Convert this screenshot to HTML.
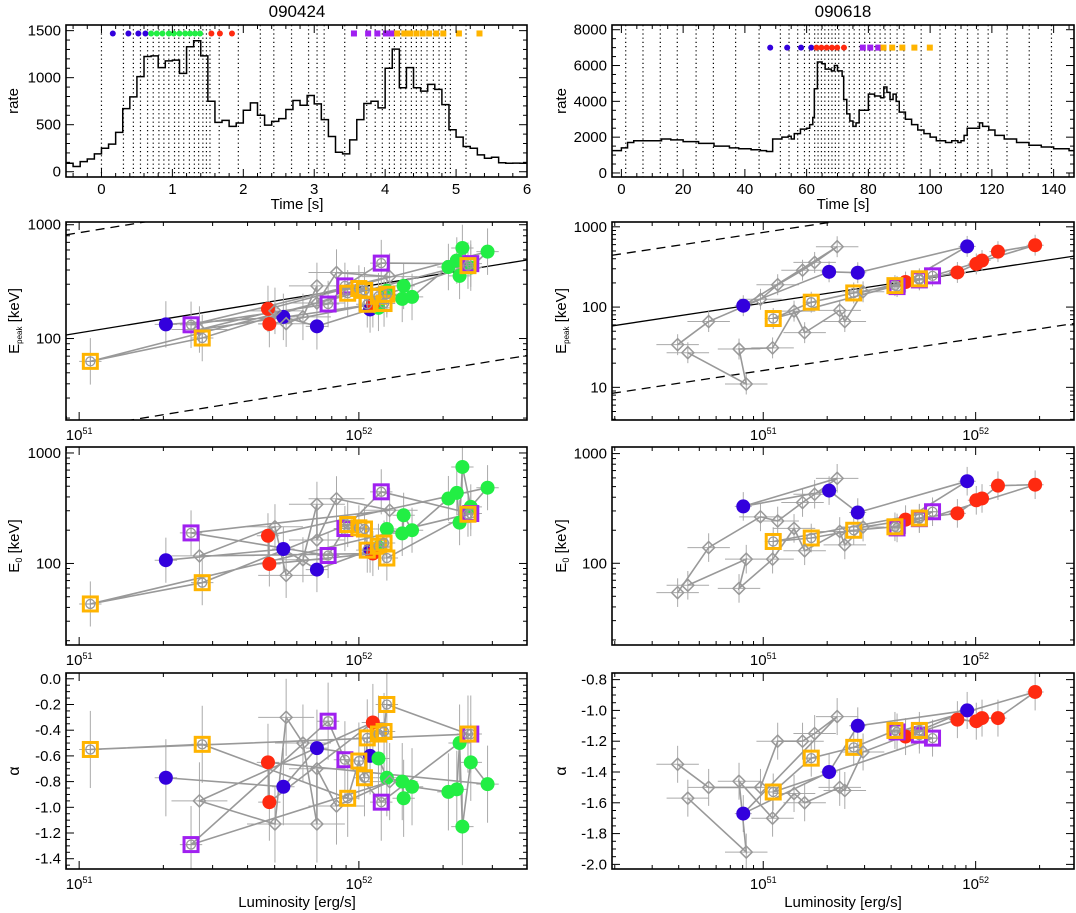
<!DOCTYPE html>
<html><head><meta charset="utf-8"><style>
body{margin:0;background:#fff}
svg{display:block;font-family:"Liberation Sans",sans-serif}
</style></head><body>
<svg id="fig" width="1076" height="913" viewBox="0 0 1076 913">
<rect width="1076" height="913" fill="#fff"/>
<text x="297" y="17" font-size="17" text-anchor="middle">090424</text>
<text x="843" y="17" font-size="17" text-anchor="middle">090618</text>
<text x="297" y="209" font-size="15" text-anchor="middle">Time [s]</text>
<text x="843" y="209" font-size="15" text-anchor="middle">Time [s]</text>
<text x="297" y="907" font-size="15" text-anchor="middle">Luminosity [erg/s]</text>
<text x="843" y="907" font-size="15" text-anchor="middle">Luminosity [erg/s]</text>
<text transform="translate(18,101) rotate(-90)" font-size="15" text-anchor="middle">rate</text>
<text transform="translate(566,101) rotate(-90)" font-size="15" text-anchor="middle">rate</text>
<text transform="translate(19,321) rotate(-90)" font-size="15" text-anchor="middle">E<tspan font-size="8" dy="3">peak</tspan><tspan dy="-3"> [keV]</tspan></text>
<text transform="translate(566,321) rotate(-90)" font-size="15" text-anchor="middle">E<tspan font-size="8" dy="3">peak</tspan><tspan dy="-3"> [keV]</tspan></text>
<text transform="translate(19,546) rotate(-90)" font-size="15" text-anchor="middle">E<tspan font-size="9" dy="3">0</tspan><tspan dy="-3"> [keV]</tspan></text>
<text transform="translate(566,546) rotate(-90)" font-size="15" text-anchor="middle">E<tspan font-size="9" dy="3">0</tspan><tspan dy="-3"> [keV]</tspan></text>
<text transform="translate(19,771) rotate(-90)" font-size="16" text-anchor="middle">α</text>
<text transform="translate(566,771) rotate(-90)" font-size="16" text-anchor="middle">α</text>
</svg>
<script>
// ---------- light-curve data ----------
const lcLeftBinStart = -0.5;
const lcLeftBinWidth = 0.1;
const lcLeftRates = [90,55,107,136,190,250,293,418,671,796,1011,1225,1232,1107,1179,1186,1046,1329,1393,1232,750,525,546,482,518,654,732,600,496,536,564,661,757,707,811,721,554,375,207,190,339,554,725,750,679,1100,1304,893,1107,893,857,929,875,714,446,368,268,250,179,143,154,96,90,92,90];
const lcLeftDivTimes = [0,0.31,0.45,0.55,0.65,0.73,0.81,0.88,0.95,1.03,1.09,1.16,1.24,1.31,1.37,1.43,1.48,1.53,1.66,1.93,2.24,2.43,2.68,2.92,3.04,3.14,3.43,3.74,3.86,3.96,4.06,4.13,4.22,4.29,4.37,4.44,4.51,4.59,4.68,4.76,4.85,4.92,5.14];
const lcLeftMarkTimes = [0.16,0.38,0.52,0.62,0.70,0.78,0.86,0.95,1.02,1.10,1.18,1.25,1.32,1.39,1.55,1.67,1.84,3.56,3.76,3.89,4.01,4.09,4.17,4.27,4.35,4.44,4.53,4.62,4.72,4.82,5.04,5.33];
const lcLeftMarkTypes = ['b','b','b','b','g','g','g','g','g','g','g','g','g','g','r','r','r','p','p','p','p','p','o','o','o','o','o','o','o','o','o','o'];
const lcLeftMarkLevel = 1470;

const lcRightTimes = [-3,0,2,4,6,10,13,16,20,25,30,35,38,42,45,47,49,52,54,55,56,58,60,61,62,62.5,63.5,65,66,68,69,70,71.5,72,73,74,75,76,77,79,80,82,84,85,86,87,88,89,90,92,94,96,98,100,102,105,107,109,110,111,112,114,116,117,119,121,124,128,132,136,140,145,150];
const lcRightRates = [1250,1400,1700,1800,1800,1800,1900,1850,1750,1650,1500,1400,1350,1300,1250,1200,1900,2000,2050,1900,2200,2450,2500,2700,3100,4700,6200,6100,5800,5700,6000,5700,5400,4100,3300,2900,2600,2800,3500,3500,4400,4300,4200,4800,4500,4100,4400,4000,3400,3000,2700,2400,2200,2000,1800,1700,1800,1700,1800,2100,2500,2500,2800,2600,2400,2100,1900,1700,1550,1450,1350,1250,1150];
const lcRightDivTimes = [1.4,7,12.6,18.1,24.2,29.8,37,44.6,51.5,54.3,57.1,59.3,60.9,62.6,63.7,64.8,65.9,67.1,68.2,69.3,70.4,72.1,73.8,75.4,77.1,78.8,80.4,82.1,83.8,85.4,87.1,89.3,91.5,97.1,103.2,108.2,112.1,115.5,118.8,124.9,132.1,139.3];
const lcRightMarkTimes = [48.2,53.7,58.2,61.5,63.2,64.8,66.5,68.2,69.9,72.1,78.2,80.6,83.2,84.9,87.7,91,94.9,99.9];
const lcRightMarkTypes = ['b','b','b','b','r','r','r','r','r','r','p','p','p','o','o','o','o','o'];
const lcRightMarkLevel = 7000;

// ---------- GRB 090424 spectral data (log10 luminosity) ----------
const gA_type = ['b','b','b','b','g','g','g','g','g','g','g','g','g','g','g','r','r','r','d','d','d','d','d','d','d','d','p','p','p','p','p','o','o','o','o','o','o','o','o','o','o'];
const gA_logL = [51.31,51.73,51.85,52.04, 52.07,52.10,52.155,52.16,52.19,52.32,52.35,52.36,52.37,52.40,52.46, 51.675,51.68,52.05, 51.43,51.70,51.74,51.80,51.85,51.85,51.92,52.11, 51.40,51.89,51.95,52.08,52.40, 51.04,51.44,51.96,52.00,52.02,52.03,52.07,52.09,52.10,52.39];
const gA_epeak = [133,155,128,180, 186,263,223,290,232,425,485,355,625,420,580, 182,134,200, 120,175,135,155,290,205,380,350, 132,201,290,460,455, 63,101,250,275,265,200,235,203,245,437];
const gA_e0 = [107,135,88,132, 140,205,187,273,200,387,435,234,747,325,485, 178,99,123, 117,215,78,108,343,163,385,303, 189,118,207,445,283, 43,67,225,210,205,132,143,153,112,279];
const gA_alpha = [-0.77,-0.84,-0.54,-0.60, -0.62,-0.77,-0.80,-0.93,-0.84,-0.88,-0.86,-0.50,-1.15,-0.65,-0.82, -0.65,-0.96,-0.34, -0.95,-1.13,-0.30,-0.50,-1.13,-0.70,-0.99,-0.80, -1.29,-0.33,-0.63,-0.96,-0.43, -0.55,-0.51,-0.93,-0.64,-0.77,-0.46,-0.43,-0.41,-0.20,-0.43];

// ---------- GRB 090618 spectral data ----------
const gB_type = ['d','d','d','d','d','d','d','b','b','b','b','r','r','r','r','r','r','p','p','p','o','o','o','o','o','d','d','d','d','d','d','d','d','d'];
const gB_logL = [50.597,50.743,50.987,51.068,51.185,51.242,51.348, 50.906,51.31,51.445,51.96, 51.67,51.914,52.003,52.03,52.105,52.28, 51.63,51.735,51.797, 51.047,51.226,51.426,51.62,51.735, 51.47,51.384,51.36,51.195,51.145,51.044,50.886,50.92,50.645];
const gB_epeak = [34,66,125,190,288,360,565, 104,275,268,570, 205,270,345,380,490,590, 180,218,245, 72,115,150,185,225, 155,66,91,48,89,31,30,11,27];
const gB_e0 = [54,139,265,243,358,426,595, 330,460,290,560, 250,285,375,390,510,520, 210,255,295, 158,170,200,215,258, 214,147,195,130,208,109,59,109,63];
const gB_alpha = [-1.35,-1.50,-1.50,-1.20,-1.20,-1.15,-1.04, -1.67,-1.40,-1.10,-1.00, -1.17,-1.06,-1.07,-1.05,-1.05,-0.88, -1.14,-1.16,-1.18, -1.53,-1.31,-1.24,-1.13,-1.13, -1.27,-1.52,-1.50,-1.60,-1.54,-1.70,-1.46,-1.92,-1.57];

// Epeak-L relation lines: log Ep = intercept + slope*(logL-51)
const relSlope = 0.4;
const relIntercepts = [2.05, 2.93, 1.21];

const NS='http://www.w3.org/2000/svg';
const svg=document.getElementById('fig');
const COL={b:'#3300dd',g:'#22ee44',r:'#ff2a10',p:'#a020f0',o:'#ffb400'};
const NAMES={b:'blue',g:'green',r:'red',p:'purple',o:'orange',d:'gray'};
function el(tag,attrs,parent){const e=document.createElementNS(NS,tag);for(const k in attrs)e.setAttribute(k,attrs[k]);(parent||svg).appendChild(e);return e;}
let clipId=0;
function makePanel(name,x0,x1,y0,y1,xr,yr,xlog,ylog){
  const P={x0,x1,y0,y1,xr,yr};
  P.sx=v=>x0+(v-xr[0])/(xr[1]-xr[0])*(x1-x0);
  P.sy=v=>y1-((ylog?Math.log10(v):v)-yr[0])/(yr[1]-yr[0])*(y1-y0);
  P.g=el('g',{});
  
  
  const id='c'+(clipId++);
  const cp=el('clipPath',{id:id},P.g);
  el('rect',{x:x0,y:y0,width:x1-x0,height:y1-y0},cp);
  P.c=el('g',{'clip-path':'url(#'+id+')'},P.g);
  return P;
}
function frame(P){
  const r=el('rect',{x:P.x0,y:P.y0,width:P.x1-P.x0,height:P.y1-P.y0,fill:'none',stroke:'#000','stroke-width':1.6},P.g);
  
  
}
function tickLine(P,pos,axis,len){
  if(axis==='x'){el('line',{x1:pos,x2:pos,y1:P.y1,y2:P.y1-len,stroke:'#000','stroke-width':1},P.g);el('line',{x1:pos,x2:pos,y1:P.y0,y2:P.y0+len,stroke:'#000','stroke-width':1},P.g);}
  else{el('line',{y1:pos,y2:pos,x1:P.x0,x2:P.x0+len,stroke:'#000','stroke-width':1},P.g);el('line',{y1:pos,y2:pos,x1:P.x1,x2:P.x1-len,stroke:'#000','stroke-width':1},P.g);}
}
function linTicks(P,axis,major,minor,fmt){
  const r=axis==='x'?P.xr:P.yr;
  const s=axis==='x'?P.sx:(v=>P.y1-(v-P.yr[0])/(P.yr[1]-P.yr[0])*(P.y1-P.y0));
  for(let v=Math.ceil(r[0]/minor-1e-6)*minor;v<=r[1]+1e-9;v+=minor){
    const isMaj=Math.abs(v/major-Math.round(v/major))<1e-6;
    const p=s(v);tickLine(P,p,axis,isMaj?8:4);
    if(isMaj){
      const t=axis==='x'?el('text',{x:p,y:P.y1+17,'font-size':15,'text-anchor':'middle'},P.g):el('text',{x:P.x0-5,y:p+5,'font-size':15,'text-anchor':'end'},P.g);
      t.textContent=fmt(v);
      
      
    }
  }
}
function logTicks(P,axis){
  const r=axis==='x'?P.xr:P.yr;
  const s=axis==='x'?P.sx:(v=>P.y1-(v-P.yr[0])/(P.yr[1]-P.yr[0])*(P.y1-P.y0));
  for(let d=Math.floor(r[0]);d<=Math.ceil(r[1]);d++){
    for(let m=1;m<10;m++){
      const lv=d+Math.log10(m);
      if(lv<r[0]-1e-6||lv>r[1]+1e-6)continue;
      const p=s(lv);tickLine(P,p,axis,m===1?8:4);
      if(m===1){
        if(axis==='x'){
          const t=el('text',{x:p,y:P.y1+20,'font-size':15,'text-anchor':'middle'},P.g);
          
          
          t.appendChild(document.createTextNode('10'));
          const sp=el('tspan',{'font-size':9,dy:-6},t);sp.textContent=String(d);
        }else{
          const t=el('text',{x:P.x0-5,y:p+5,'font-size':15,'text-anchor':'end'},P.g);
          t.textContent=String(Math.round(Math.pow(10,d)));
          
          
        }
      }
    }
  }
}
function lcMarker(P,t,type,level){
  const x=P.sx(t),y=P.sy(level);let m;
  if(type==='p'||type==='o'){m=el('rect',{x:x-3,y:y-3,width:6,height:6,fill:COL[type]},P.c);}
  else{m=el('circle',{cx:x,cy:y,r:3,fill:COL[type]},P.c);}
  
  
}
function lightCurve(P,starts,rates,endT,divs,mt,mty,lvl){
  divs.forEach(t=>{const l=el('line',{x1:P.sx(t),x2:P.sx(t),y1:P.y0,y2:P.y1,stroke:'#000','stroke-width':1.2,'stroke-dasharray':'1.2,3'},P.c);
    
    });
  let d='';
  for(let i=0;i<rates.length;i++){const a=P.sx(starts[i]),b=P.sx(i+1<starts.length?starts[i+1]:endT),y=P.sy(rates[i]);d+=(i?'L':'M')+a+' '+y+'L'+b+' '+y;}
  const p=el('path',{d:d,fill:'none',stroke:'#000','stroke-width':1.5},P.c);
  
  
  mt.forEach((t,i)=>lcMarker(P,t,mty[i],lvl));
}
function scatter(P,types,logL,vals,ylog,yerr){
  const eg=el('g',{stroke:'#aaa','stroke-width':1},P.c);
  logL.forEach((lx,i)=>{
    const v=vals[i],x=P.sx(lx);
    const ylo=ylog?v/yerr:v-yerr,yhi=ylog?v*yerr:v+yerr;
    const e=el('line',{x1:x,x2:x,y1:P.sy(ylo),y2:P.sy(yhi)},eg);
    
    
    const xe=types[i]==='d'?0.1:0.04;
    el('line',{x1:P.sx(lx-xe),x2:P.sx(lx+xe),y1:P.sy(v),y2:P.sy(v)},eg);
  });
  let d='';
  logL.forEach((lx,i)=>{d+=(i?'L':'M')+P.sx(lx)+' '+P.sy(vals[i]);});
  const pl=el('path',{d:d,fill:'none',stroke:'#999','stroke-width':1.6},P.c);
  
  
  logL.forEach((lx,i)=>{
    const t=types[i],x=P.sx(lx),y=P.sy(vals[i]);let m;
    if(t==='d'){m=el('path',{d:`M${x} ${y-6}L${x+6} ${y}L${x} ${y+6}L${x-6} ${y}Z`,fill:'none',stroke:'#999','stroke-width':1.5},P.c);}
    else if(t==='p'||t==='o'){
      m=el('g',{},P.c);
      el('rect',{x:x-7,y:y-7,width:14,height:14,fill:'none',stroke:COL[t],'stroke-width':3},m);
      el('circle',{cx:x,cy:y,r:4.5,fill:'none',stroke:'#999','stroke-width':1.3},m);
      el('path',{d:`M${x-4} ${y}H${x+4}M${x} ${y-4}V${y+4}`,stroke:'#999','stroke-width':1},m);
    } else {m=el('circle',{cx:x,cy:y,r:7,fill:COL[t]},P.c);}
    
    
  });
}
function relLines(P){
  relIntercepts.forEach((a,k)=>{
    const l0=P.xr[0],l1=P.xr[1];
    const l=el('line',{x1:P.sx(l0),x2:P.sx(l1),y1:P.sy(Math.pow(10,a+relSlope*(l0-51))),y2:P.sy(Math.pow(10,a+relSlope*(l1-51))),stroke:'#000','stroke-width':1.3,'stroke-dasharray':k?'9,6':'none'},P.c);
    
    
  });
}
// ---------- light curves ----------
const lcL=makePanel('light-curve-090424',66,527,25,177,[-0.5,6],[-56,1560],false,false);
const lStarts=lcLeftRates.map((r,i)=>lcLeftBinStart+i*lcLeftBinWidth);
lightCurve(lcL,lStarts,lcLeftRates,lcLeftBinStart+lcLeftRates.length*lcLeftBinWidth,lcLeftDivTimes,lcLeftMarkTimes,lcLeftMarkTypes,lcLeftMarkLevel);
frame(lcL);linTicks(lcL,'x',1,0.2,v=>String(Math.round(v)));linTicks(lcL,'y',500,100,v=>String(Math.round(v)));
const lcR=makePanel('light-curve-090618',612,1074,25,177,[-3.04,146.6],[-225,8263],false,false);
lightCurve(lcR,lcRightTimes,lcRightRates,150,lcRightDivTimes,lcRightMarkTimes,lcRightMarkTypes,lcRightMarkLevel);
frame(lcR);linTicks(lcR,'x',20,5,v=>String(Math.round(v)));linTicks(lcR,'y',2000,500,v=>String(Math.round(v)));
// ---------- scatter panels ----------
const LX=[50.953,52.601],RX=[50.288,52.463];
const epL=makePanel('epeak-vs-lum-090424',66,527,222,420,LX,[1.284,3.024],true,true);
relLines(epL);scatter(epL,gA_type,gA_logL,gA_epeak,true,1.6);frame(epL);logTicks(epL,'x');logTicks(epL,'y');
const epR=makePanel('epeak-vs-lum-090618',612,1074,222,420,RX,[0.593,3.06],true,true);
relLines(epR);scatter(epR,gB_type,gB_logL,gB_epeak,true,1.35);frame(epR);logTicks(epR,'x');logTicks(epR,'y');
const e0L=makePanel('e0-vs-lum-090424',66,527,447,645,LX,[1.262,3.054],true,true);
scatter(e0L,gA_type,gA_logL,gA_e0,true,1.6);frame(e0L);logTicks(e0L,'x');logTicks(e0L,'y');
const e0R=makePanel('e0-vs-lum-090618',612,1074,447,645,RX,[1.255,3.06],true,true);
scatter(e0R,gB_type,gB_logL,gB_e0,true,1.35);frame(e0R);logTicks(e0R,'x');logTicks(e0R,'y');
const alL=makePanel('alpha-vs-lum-090424',66,527,673,869,LX,[-1.48,0.045],true,false);
scatter(alL,gA_type,gA_logL,gA_alpha,false,0.3);frame(alL);logTicks(alL,'x');linTicks(alL,'y',0.2,0.05,v=>v.toFixed(1).replace('-0.0','0.0'));
const alR=makePanel('alpha-vs-lum-090618',612,1074,673,869,RX,[-2.03,-0.757],true,false);
scatter(alR,gB_type,gB_logL,gB_alpha,false,0.12);frame(alR);logTicks(alR,'x');linTicks(alR,'y',0.2,0.05,v=>v.toFixed(1));
</script>
</body></html>
